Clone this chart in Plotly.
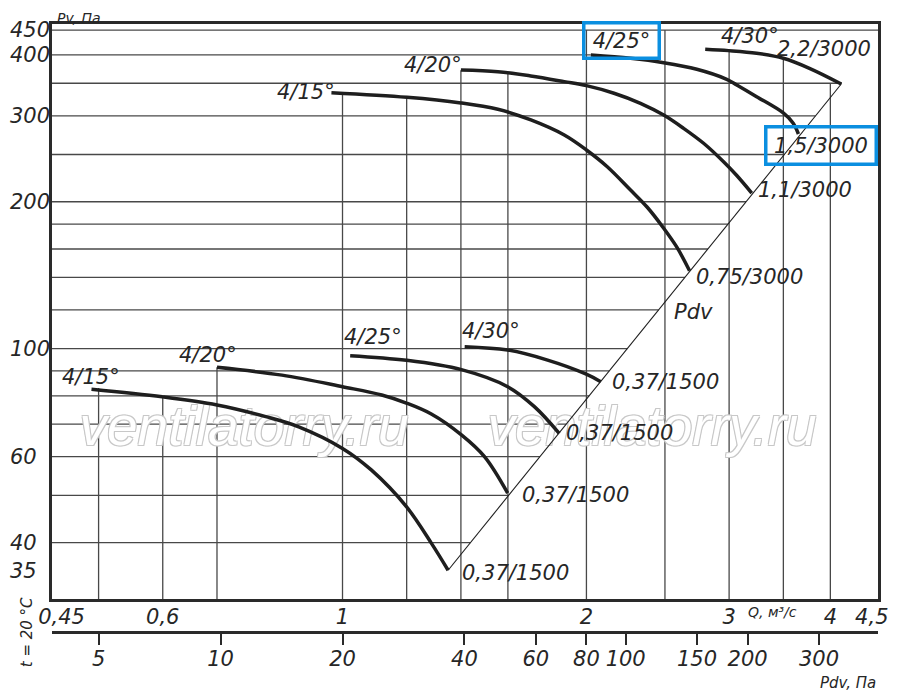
import numpy as np
import plotly.graph_objects as go

# ---- scales (Q, m3/s on log x; Pv, Pa on log y; Pdv = 20*Q^2 on the lower scale) ----
q_ticks = [0.45, 0.6, 1, 2, 3, 4, 4.5]
q_tick_text = ["0,45", "0,6", "1", "2", "3", "4", "4,5"]
pv_ticks = [450, 400, 300, 200, 100, 60, 40, 35]
pdv_ticks = [5, 10, 20, 40, 60, 80, 100, 150, 200, 300]
PDV_K = 20.0

q_range = [0.438, 4.58]
pv_range = [30.6, 463.0]

# grid as drawn on the sheet
vgrid_q = [0.5, 0.6, 0.7, 1, 1.2, 1.4, 1.6, 2, 2.5, 3, 3.5, 4]
vgrid_top = [83, 80, 91.5, 334, 328, 372, 367, 450, 450, 408, 394, 350]
hgrid_p = [450, 400, 350, 300, 250, 200, 180, 160, 140, 120, 100, 90, 80, 70, 60, 50, 40]

# ---- fan curves, 3000 rpm ----
q_15_3000 = [0.969, 1.201, 1.400, 1.555, 1.708, 1.878, 2.000, 2.122, 2.267, 2.376, 2.491, 2.587, 2.681]
pv_15_3000 = [334.7, 327.5, 318.9, 309.5, 294.3, 274.1, 255.4, 236.0, 211.4, 195.1, 176.5, 161.2, 144.4]
q_20_3000 = [1.400, 1.555, 1.707, 1.878, 2.000, 2.163, 2.332, 2.491, 2.636, 2.790, 2.953, 3.066, 3.199]
pv_20_3000 = [372.6, 369.7, 362.3, 352.7, 346.1, 333.9, 318.4, 301.2, 282.9, 263.6, 241.6, 226.4, 208.4]
q_25_3000 = [2.025, 2.267, 2.491, 2.737, 2.980, 3.066, 3.244, 3.499, 3.599, 3.653]
pv_25_3000 = [400.0, 393.8, 385.7, 373.9, 356.6, 347.2, 328.5, 304.2, 289.7, 275.4]
q_30_3000 = [2.803, 2.995, 3.244, 3.499, 3.769, 4.126]
pv_30_3000 = [411.0, 408.3, 403.3, 393.8, 375.6, 348.8]

# ---- fan curves, 1500 rpm ----
q_15_1500 = [0.490, 0.599, 0.700, 0.804, 0.883, 1.000, 1.086, 1.199, 1.287, 1.350]
pv_15_1500 = [82.5, 79.6, 76.6, 72.5, 69.1, 62.4, 56.3, 47.4, 39.9, 35.1]
q_20_1500 = [0.700, 0.842, 1.000, 1.118, 1.199, 1.287, 1.402, 1.497, 1.599]
pv_20_1500 = [91.5, 88.2, 83.5, 80.3, 77.3, 73.4, 66.5, 60.0, 50.5]
q_25_1500 = [1.022, 1.199, 1.402, 1.599, 1.725, 1.851]
pv_25_1500 = [96.7, 94.6, 90.5, 83.5, 76.0, 67.0]
q_30_1500 = [1.415, 1.599, 1.791, 1.996, 2.083]
pv_30_1500 = [100.9, 99.3, 94.7, 88.7, 85.5]

# Pdv line (ends of the curves lie on it)
pdv_line_q = [1.350, 4.126]
pdv_line_pv = [35.1, 348.8]

INK = "#1e1e1e"
GRID = "#484848"
BLUE = "#0b8fe0"
FONT = "DejaVu Sans"


def diag_q(p):
    lq = np.log10(pdv_line_q)
    lp = np.log10(pdv_line_pv)
    k = (lq[1] - lq[0]) / (lp[1] - lp[0])
    return 10 ** (lq[0] + k * (np.log10(p) - lp[0]))


def tfont(size=21, color="#262626"):
    return dict(family=FONT, size=size, color=color, style="italic")


fig = go.Figure()

# watermark
fig.add_trace(go.Scatter(
    x=[0.756, 2.41], y=[67.7, 67.7], mode="text",
    text=["ventilatorry.ru", "ventilatorry.ru"],
    textfont=dict(family="Liberation Sans", size=55, color="white", style="italic",
                  shadow="1px 1px 0 #c8c8c8, -1px -1px 0 #c8c8c8, 1px -1px 0 #c8c8c8, -1px 1px 0 #c8c8c8"),
    hoverinfo="skip", showlegend=False))

fig.add_trace(go.Scatter(x=pdv_line_q, y=pdv_line_pv, mode="lines",
                         line=dict(color=INK, width=1.1), hoverinfo="skip", showlegend=False))

curves = [
    (q_15_3000, pv_15_3000), (q_20_3000, pv_20_3000),
    (q_25_3000, pv_25_3000), (q_30_3000, pv_30_3000),
    (q_15_1500, pv_15_1500), (q_20_1500, pv_20_1500),
    (q_25_1500, pv_25_1500), (q_30_1500, pv_30_1500),
]
for qs, ps in curves:
    fig.add_trace(go.Scatter(x=qs, y=ps, mode="lines",
                             line=dict(color=INK, width=3.5, shape="spline", smoothing=1.0),
                             hoverinfo="skip", showlegend=False))

# empty trace so the Pdv scale gets drawn
fig.add_trace(go.Scatter(x=[pdv_ticks[0], pdv_ticks[-1]], y=[pv_range[0], pv_range[0]],
                         xaxis="x2", mode="none", hoverinfo="skip", showlegend=False))

# grid
shapes = []
for q, top in zip(vgrid_q, vgrid_top):
    shapes.append(dict(type="line", xref="x", yref="y", x0=q, x1=q, y0=pv_range[0], y1=top,
                       line=dict(color=GRID, width=1.3), layer="below"))
for p in hgrid_p:
    if p <= 350:
        end = diag_q(p)
    elif p == 400:
        end = q_25_3000[0]
    else:
        end = q_range[1]
    shapes.append(dict(type="line", xref="x", yref="y", x0=q_range[0], x1=min(end, q_range[1]),
                       y0=p, y1=p, line=dict(color=GRID, width=1.3), layer="below"))

annotations = []
for v in pv_ticks:
    annotations.append(dict(text=str(v), xref="paper", yref="y", x=-0.053, y=np.log10(v),
                            xanchor="left", yanchor="middle", showarrow=False, font=tfont(21)))


def label(text, q, p, xanchor, xshift, yshift, boxed=False, w=None, h=None):
    a = dict(text=text, xref="x", yref="y", x=np.log10(q), y=np.log10(p),
             xanchor=xanchor, yanchor="middle", xshift=xshift, yshift=yshift,
             showarrow=False, font=tfont(21))
    if boxed:
        a.update(bordercolor=BLUE, borderwidth=3.5, borderpad=1, width=w, height=h)
    annotations.append(a)


label("4/15°", q_15_3000[0], pv_15_3000[0], "right", 6, 1)
label("4/20°", q_20_3000[0], pv_20_3000[0], "right", 3, 5)
label("4/25°", q_25_3000[0], pv_25_3000[0], "left", -9, 14, True, 70, 30)
label("4/30°", q_30_3000[0], pv_30_3000[0], "left", 14, 13)
label("2,2/3000", q_30_3000[-1], pv_30_3000[-1], "left", -66, 35)
label("1,5/3000", q_25_3000[-1], pv_25_3000[-1], "left", -34, -11, True, 105, 32)
label("1,1/3000", q_20_3000[-1], pv_20_3000[-1], "left", 4, 3)
label("0,75/3000", q_15_3000[-1], pv_15_3000[-1], "left", 4, -6)
label("Pdv", q_15_3000[-1], pv_15_3000[-1], "center", 4, -41)
label("4/15°", q_15_1500[0], pv_15_1500[0], "center", 0, 12)
label("4/20°", q_20_1500[0], pv_20_1500[0], "right", 22, 12)
label("4/25°", q_25_1500[0], pv_25_1500[0], "left", -8, 19)
label("4/30°", q_30_1500[0], pv_30_1500[0], "left", -5, 16)
label("0,37/1500", q_30_1500[-1], pv_30_1500[-1], "left", 9, 0)
label("0,37/1500", q_25_1500[-1], pv_25_1500[-1], "left", 5, 0)
label("0,37/1500", q_20_1500[-1], pv_20_1500[-1], "left", 12, -2)
label("0,37/1500", q_15_1500[-1], pv_15_1500[-1], "left", 12, -3)

annotations += [
    dict(text="Pv, Па", xref="paper", yref="paper", x=0.0325, y=1.0263, showarrow=False,
         xanchor="center", yanchor="top", font=tfont(14)),
    dict(text="t = 20 °C", xref="paper", yref="paper", x=-0.03, y=0.0, showarrow=False,
         textangle=-90, xanchor="center", yanchor="middle", font=tfont(15)),
    dict(text="Q, м³/с", xref="paper", yref="paper", x=0.872, y=0.033, showarrow=False,
         xanchor="center", yanchor="middle", font=tfont(14)),
    dict(text="Pdv, Па", xref="paper", yref="paper", x=0.964, y=-0.084, showarrow=False,
         xanchor="center", yanchor="middle", font=tfont(15)),
]

# page has an 8px body margin, so the figure is 8px smaller than the window
fig.update_layout(
    width=892, height=687,
    margin=dict(l=44, r=18, t=16, b=63),
    paper_bgcolor="white", plot_bgcolor="white",
    showlegend=False, hovermode=False,
    shapes=shapes, annotations=annotations,
    xaxis=dict(type="log", range=list(np.log10(q_range)), tickmode="array",
               tickvals=q_ticks, ticktext=q_tick_text, ticks="", showgrid=False, zeroline=False,
               showline=True, mirror=True, linewidth=2.5, linecolor="#2a2a2a",
               tickfont=tfont(21), ticklabelstandoff=-3, anchor="y"),
    xaxis2=dict(type="log", overlaying="x", anchor="free", position=0, side="bottom",
                range=[np.log10(PDV_K) + 2 * np.log10(q_range[0]),
                       np.log10(PDV_K) + 2 * np.log10(q_range[1])],
                tickmode="array", tickvals=pdv_ticks, ticktext=[str(v) for v in pdv_ticks],
                ticks="outside", ticklen=11, tickwidth=1.5, tickcolor="#2a2a2a",
                showgrid=False, zeroline=False, showline=True, linewidth=2.5,
                linecolor="#2a2a2a", tickfont=tfont(21), ticklabelstandoff=-4),
    yaxis=dict(type="log", range=list(np.log10(pv_range)), domain=[0.0538, 1],
               showticklabels=False, ticks="", showgrid=False, zeroline=False,
               showline=True, mirror=True, linewidth=2.5, linecolor="#2a2a2a"),
)

fig.write_html("out.html")
